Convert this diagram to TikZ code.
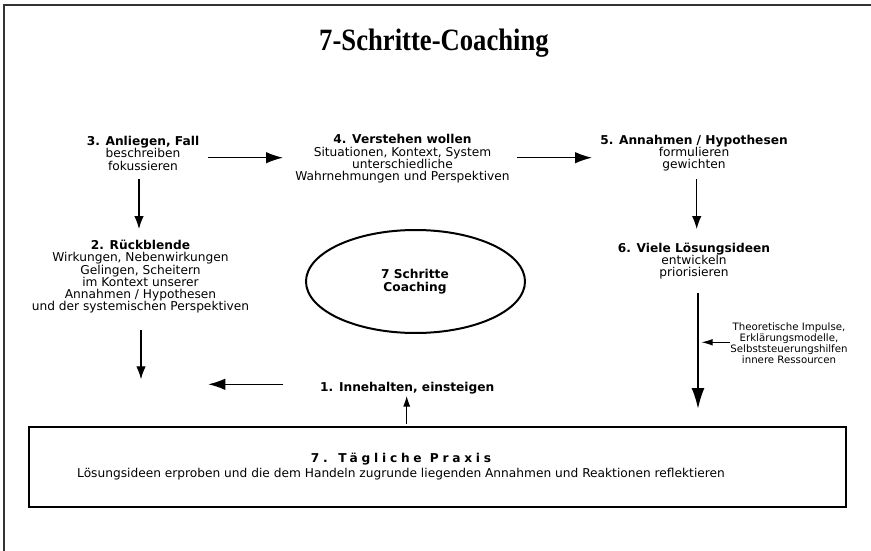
\documentclass[tikz,border=0pt]{standalone}
\usepackage{fontspec}
\setmainfont{DejaVu Sans}
\newfontfamily\titlefont[FakeStretch=0.86]{Liberation Serif}
\usetikzlibrary{arrows.meta}

\begin{document}
\begin{tikzpicture}[x=1pt,y=-1pt,
  txt/.style={align=center, inner sep=0pt, font=\fontsize{12.2}{12.3}\selectfont},
  note/.style={align=center, inner sep=0pt, font=\fontsize{10.2}{10.9}\selectfont},
  arr/.style={line width=1.1pt, -{Latex[length=13pt,width=9.5pt]}},
  harr/.style={line width=1.3pt, -{Latex[length=17pt,width=11.5pt]}},
  bigarr/.style={line width=2pt, -{Latex[length=21pt,width=13pt]}},
  smallarr/.style={line width=0.9pt, -{Latex[length=11pt,width=6.5pt]}}]

\useasboundingbox (0,0) rectangle (871,551);

% page frame (top and left edges only)
\draw[line width=1.6pt, black!80] (871,5) -- (4,5) -- (4,551);

% title
\node[anchor=base, inner sep=0pt] (title) at (434,51)
  {\titlefont\fontsize{31}{34}\selectfont\bfseries 7-Schritte-Coaching};

% the seven steps
\node[txt] (s3) at (143,153.3) {\textbf{3. Anliegen, Fall}\\beschreiben\\fokussieren};
\node[txt] (s4) at (402.5,159) {\textbf{4. Verstehen wollen}\\Situationen, Kontext, System\\unterschiedliche\\Wahrnehmungen und Perspektiven};
\node[txt] (s5) at (694,153.2) {\textbf{5. Annahmen / Hypothesen}\\formulieren\\gewichten};
\node[txt] (s6) at (694,261) {\textbf{6. Viele Lösungsideen}\\entwickeln\\priorisieren};
\node[txt] (s2) at (140.5,276.7) {\textbf{2. Rückblende}\\Wirkungen, Nebenwirkungen\\Gelingen, Scheitern\\im Kontext unserer\\Annahmen / Hypothesen\\und der systemischen Perspektiven};
\node[txt, font=\fontsize{12.2}{12.3}\selectfont\bfseries] (s1) at (407.3,387.7) {1. Innehalten, einsteigen};

% central ellipse
\draw[line width=2pt] (415.5,281.5) ellipse [x radius=109.5, y radius=51.5];
\node[txt, font=\fontsize{12.2}{12.6}\selectfont\bfseries] (core) at (415,281.7) {7 Schritte\\Coaching};

% side note on resources
\node[note] (res) at (789,343) {Theoretische Impulse,\\Erklärungsmodelle,\\Selbststeuerungshilfen\\innere Ressourcen};

% daily practice box
\draw[line width=2.4pt] (29,427) rectangle (846,507);
\node[txt] (s7) at (401,466.6) {{\bfseries\addfontfeature{LetterSpace=31}7. Tägliche Praxis}\\[3.5pt]Lösungsideen erproben und die dem Handeln zugrunde liegenden Annahmen und Reaktionen reflektieren};

% arrow end points
\coordinate (a3s) at (139,179);   \coordinate (a3e) at (139,229);
\coordinate (a34s) at (208,157.7); \coordinate (a34e) at (283,157.7);
\coordinate (a45s) at (517,157.7); \coordinate (a45e) at (592,157.7);
\coordinate (a5s) at (696.7,179); \coordinate (a5e) at (696.7,229);
\coordinate (a6s) at (698,293);   \coordinate (a6e) at (698,409);
\coordinate (ars) at (730,342.3); \coordinate (are) at (701.5,342.3);
\coordinate (a2s) at (141,330);   \coordinate (a2e) at (141,379.3);
\coordinate (a1s) at (283,384.3); \coordinate (a1e) at (208.3,384.3);
\coordinate (a7s) at (406.7,424); \coordinate (a7e) at (406.7,396);

% connectors
\draw[arr] (a3s) -- (a3e);
\draw[harr] (a34s) -- (a34e);
\draw[harr] (a45s) -- (a45e);
\draw[arr] (a5s) -- (a5e);
\draw[bigarr] (a6s) -- (a6e);
\draw[smallarr] (ars) -- (are);
\draw[arr] (a2s) -- (a2e);
\draw[harr] (a1s) -- (a1e);
\draw[line width=0.9pt, -{Latex[length=10.5pt,width=7pt]}] (a7s) -- (a7e);

\end{tikzpicture}
\end{document}
